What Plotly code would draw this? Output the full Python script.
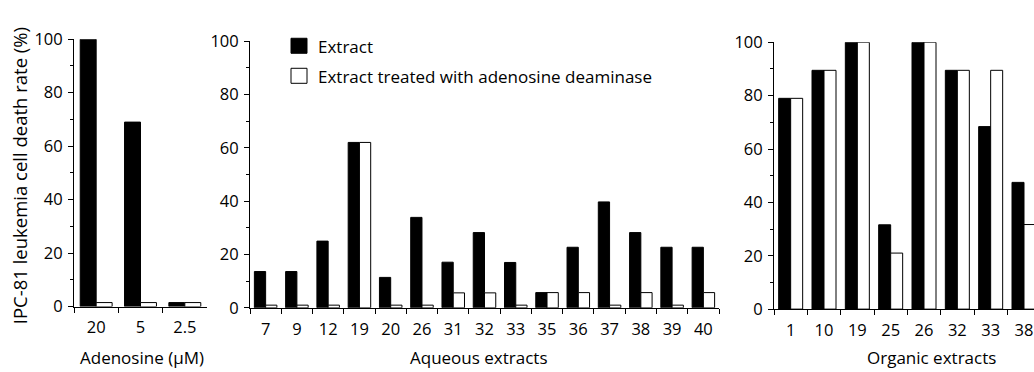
import plotly.graph_objects as go

# Adenosine reference doses
adenosine_doses = ["20", "5", "2.5"]
adenosine_extract = [100, 69, 1.5]
adenosine_treated = [1.5, 1.5, 1.5]

# Aqueous extracts
aqueous_ids = ["7", "9", "12", "19", "20", "26", "31", "32", "33", "35", "36", "37", "38", "39", "40"]
aqueous_extract = [13.6, 13.6, 25, 62, 11.4, 33.9, 17.1, 28.2, 17, 5.7, 22.7, 39.7, 28.2, 22.7, 22.7]
aqueous_treated = [1, 1, 1, 62, 1, 1, 5.6, 5.6, 1, 5.7, 5.7, 1, 5.7, 1, 5.7]

# Organic extracts
organic_ids = ["1", "10", "19", "25", "26", "32", "33", "38"]
organic_extract = [79, 89.5, 100, 31.6, 100, 89.5, 68.4, 47.5]
organic_treated = [79, 89.5, 100, 21, 100, 89.5, 89.5, 31.7]

W, H = 1034, 372
FONT = "Open Sans"
BAR_W = 0.36
TICK_SIZE = 16.5
LABEL_SIZE = 17


def px_x(v):
    return v / W


def px_y(v):
    return 1 - v / H


fig = go.Figure()

panels = [
    (adenosine_doses, adenosine_extract, adenosine_treated, "x", "y"),
    (aqueous_ids, aqueous_extract, aqueous_treated, "x2", "y2"),
    (organic_ids, organic_extract, organic_treated, "x3", "y3"),
]

for cats, ext, trt, xa, ya in panels:
    fig.add_trace(go.Bar(
        x=cats, y=ext, xaxis=xa, yaxis=ya,
        width=[BAR_W] * len(cats), offset=[-BAR_W] * len(cats),
        marker=dict(color="black", line=dict(color="black", width=1)),
        showlegend=False,
    ))
    fig.add_trace(go.Bar(
        x=cats, y=trt, xaxis=xa, yaxis=ya,
        width=[BAR_W] * len(cats), offset=[0] * len(cats),
        marker=dict(color="white", line=dict(color="black", width=1)),
        showlegend=False,
    ))

# panel geometry (pixels): x span, y (zero, hundred), category range
geom = {
    "": ((74, 207), (314, 29), [-0.5, 2.5]),
    "2": ((250, 719), (315.3, 31), [-0.5, 14.5]),
    "3": ((774, 1034), (316.7, 32.3), [-0.5, 7.3]),
}

layout = dict(
    width=W, height=H, autosize=False,
    margin=dict(l=0, r=0, t=0, b=0),
    paper_bgcolor="white", plot_bgcolor="white",
    font=dict(family=FONT, size=TICK_SIZE, color="black"),
    barmode="overlay",
)

for suffix, ((x0, x1), (y0, y1), xr) in geom.items():
    layout["xaxis" + suffix] = dict(
        domain=[px_x(x0), px_x(x1)], anchor="y" + suffix, type="category",
        range=xr, showline=True, linecolor="black", linewidth=1,
        ticks="outside", tickson="boundaries", ticklen=5, tickcolor="black",
        ticklabelstandoff=6,
        showgrid=False, zeroline=False, tickfont=dict(size=TICK_SIZE),
    )
    layout["yaxis" + suffix] = dict(
        domain=[px_y(y0), px_y(y1)], anchor="x" + suffix, range=[0, 100],
        tickvals=[0, 20, 40, 60, 80, 100], showline=True, linecolor="black",
        linewidth=1, ticks="outside", ticklen=5, tickcolor="black",
        ticklabelstandoff=2,
        minor=dict(dtick=10, ticks="outside", ticklen=3, tickcolor="black"),
        showgrid=False, zeroline=False, tickfont=dict(size=TICK_SIZE),
    )

fig.update_layout(**layout)

annotations = [
    dict(text="IPC-81 leukemia cell death rate (%)", x=px_x(19), y=px_y(175),
         textangle=-90, font=dict(size=18.5)),
    dict(text="Adenosine (μM)", x=px_x(142), y=px_y(368), font=dict(size=LABEL_SIZE)),
    dict(text="Aqueous extracts", x=px_x(479), y=px_y(368), font=dict(size=LABEL_SIZE)),
    dict(text="Organic extracts", x=px_x(931), y=px_y(368), font=dict(size=LABEL_SIZE)),
    dict(text="Extract", x=px_x(316), y=px_y(37), xanchor="left", font=dict(size=LABEL_SIZE)),
    dict(text="Extract treated with adenosine deaminase", x=px_x(316), y=px_y(69),
         xanchor="left", font=dict(size=LABEL_SIZE)),
]
for a in annotations:
    a.update(xref="paper", yref="paper", showarrow=False)
    a.setdefault("xanchor", "center")
    a.setdefault("yanchor", "middle")
fig.update_layout(annotations=annotations)

# legend swatches
fig.add_shape(type="rect", xref="paper", yref="paper",
              x0=px_x(291), x1=px_x(307), y0=px_y(44), y1=px_y(28),
              fillcolor="black", line=dict(color="black", width=1))
fig.add_shape(type="rect", xref="paper", yref="paper",
              x0=px_x(291), x1=px_x(307), y0=px_y(76), y1=px_y(60),
              fillcolor="white", line=dict(color="black", width=1))

fig.write_html("out.html")
